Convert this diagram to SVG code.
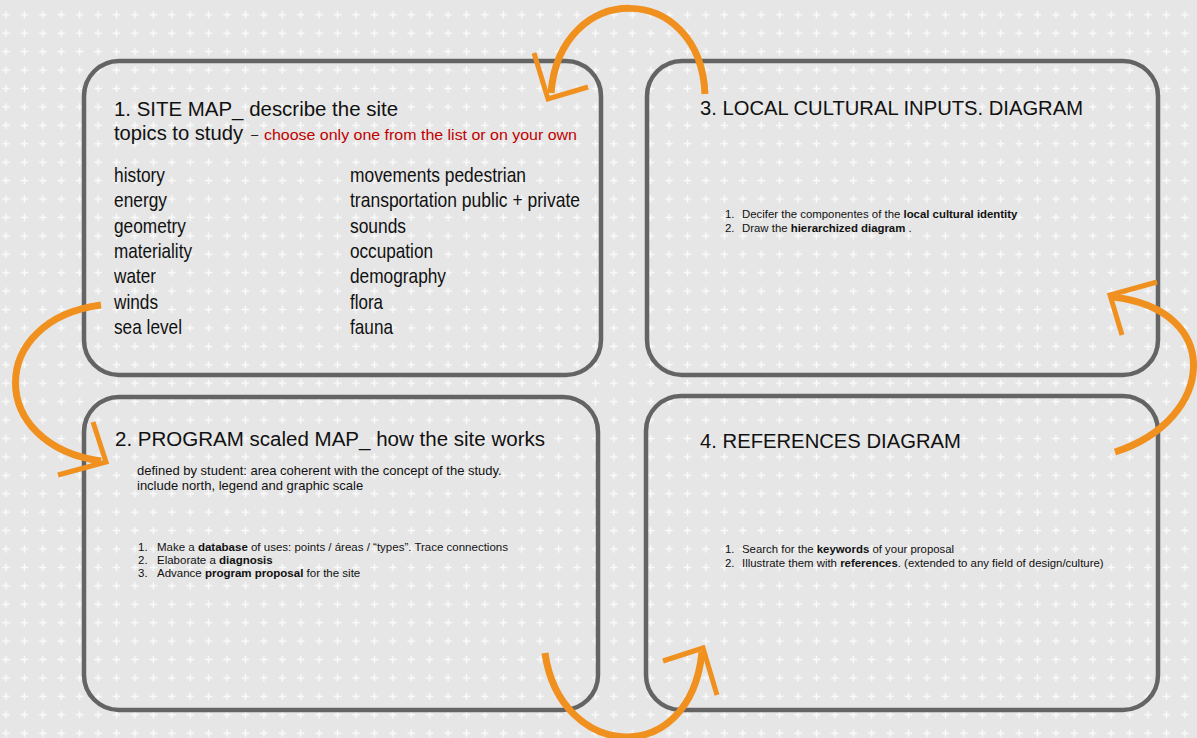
<svg xmlns="http://www.w3.org/2000/svg" width="1197" height="738" viewBox="0 0 1197 738">
<style>
.box{fill:none;stroke:#646464;stroke-width:4.5}
.t{font-family:"Liberation Sans",Arial,sans-serif;fill:#111}
.h{font-size:19.5px}
.li{font-size:21px}
.sm{font-size:11.4px}
.sub{font-size:13px}
.red{fill:#c00000;font-size:15px}
.b{font-weight:bold}
.arc{fill:none;stroke:#F0901E;stroke-width:7}
.head{fill:none;stroke:#F0901E;stroke-width:5;stroke-linejoin:miter}
</style>
<defs>
<pattern id="grid" x="-3.2" y="5.6" width="18.42" height="18.42" patternUnits="userSpaceOnUse">
<path d="M9.2,5.5 V12.9 M5.5,9.2 H12.9" stroke="#fbfbfb" stroke-width="1.4"/>
</pattern>
</defs>
<rect width="1197" height="738" fill="#e6e6e6"/>
<rect width="1197" height="738" fill="url(#grid)"/>

<g id="node1">
<rect class="box" x="84" y="61" width="517" height="314" rx="35"/>
<text class="t h" x="114" y="116" textLength="284" lengthAdjust="spacingAndGlyphs">1. SITE MAP_ describe the site</text>
<text class="t h" x="114" y="140" textLength="129" lengthAdjust="spacingAndGlyphs">topics to study</text>
<text class="t sub" x="251" y="139">–</text>
<text class="t red" x="264" y="140" textLength="313" lengthAdjust="spacingAndGlyphs">choose only one from the list or on your own</text>
<g class="t li">
<text x="114" y="182" textLength="51" lengthAdjust="spacingAndGlyphs">history</text>
<text x="114" y="207" textLength="53" lengthAdjust="spacingAndGlyphs">energy</text>
<text x="114" y="233" textLength="72" lengthAdjust="spacingAndGlyphs">geometry</text>
<text x="114" y="258" textLength="78" lengthAdjust="spacingAndGlyphs">materiality</text>
<text x="114" y="283" textLength="42" lengthAdjust="spacingAndGlyphs">water</text>
<text x="114" y="309" textLength="44" lengthAdjust="spacingAndGlyphs">winds</text>
<text x="114" y="334" textLength="68" lengthAdjust="spacingAndGlyphs">sea level</text>
<text x="350" y="182" textLength="176" lengthAdjust="spacingAndGlyphs">movements pedestrian</text>
<text x="350" y="207" textLength="230" lengthAdjust="spacingAndGlyphs">transportation public + private</text>
<text x="350" y="233" textLength="56" lengthAdjust="spacingAndGlyphs">sounds</text>
<text x="350" y="258" textLength="83" lengthAdjust="spacingAndGlyphs">occupation</text>
<text x="350" y="283" textLength="96" lengthAdjust="spacingAndGlyphs">demography</text>
<text x="350" y="309" textLength="33" lengthAdjust="spacingAndGlyphs">flora</text>
<text x="350" y="334" textLength="43" lengthAdjust="spacingAndGlyphs">fauna</text>
</g>
</g>

<g id="node3">
<rect class="box" x="647" y="61" width="511" height="314" rx="35"/>
<text class="t h" x="700" y="115" textLength="383" lengthAdjust="spacingAndGlyphs">3. LOCAL CULTURAL INPUTS. DIAGRAM</text>
<g class="t sm">
<text x="725" y="218">1.</text>
<text x="742" y="218">Decifer the componentes of the <tspan class="b">local cultural identity</tspan></text>
<text x="725" y="232">2.</text>
<text x="742" y="232">Draw the <tspan class="b">hierarchized diagram</tspan> .</text>
</g>
</g>

<g id="node2">
<rect class="box" x="84" y="397" width="514" height="313" rx="35"/>
<text class="t h" x="115" y="446" textLength="430" lengthAdjust="spacingAndGlyphs">2. PROGRAM scaled MAP_ how the site works</text>
<text class="t sub" x="137" y="475">defined by student: area coherent with the concept of the study.</text>
<text class="t sub" x="137" y="490">include north, legend and graphic scale</text>
<g class="t sm" style="font-size:11.5px">
<text x="138" y="551">1.</text>
<text x="157" y="551">Make a <tspan class="b">database</tspan> of uses: points / áreas / “types”. Trace connections</text>
<text x="138" y="564">2.</text>
<text x="157" y="564">Elaborate a <tspan class="b">diagnosis</tspan></text>
<text x="138" y="577">3.</text>
<text x="157" y="577">Advance <tspan class="b">program proposal</tspan> for the site</text>
</g>
</g>

<g id="node4">
<rect class="box" x="646" y="396" width="512" height="314" rx="35"/>
<text class="t h" x="700" y="448" textLength="261" lengthAdjust="spacingAndGlyphs">4. REFERENCES DIAGRAM</text>
<g class="t sm">
<text x="725" y="553">1.</text>
<text x="742" y="553">Search for the <tspan class="b">keywords</tspan> of your proposal</text>
<text x="725" y="567">2.</text>
<text x="742" y="567">Illustrate them with <tspan class="b">references</tspan>.  (extended to any field of design/culture)</text>
</g>
</g>

<g id="connectors">
<path class="arc" d="M705,94 C700,-20 560,-20 551,93"/>
<polyline class="head" points="534,53 548,99 588,87"/>
<path class="arc" d="M101,305 C-13,320 -13,445 101,461"/>
<polyline class="head" points="93,422 106,462 58,475"/>
<path class="arc" d="M1115,452 C1215,420 1225,310 1113,297"/>
<polyline class="head" points="1157,282 1110,295 1122,335"/>
<path class="arc" d="M545,653 C560,760 690,770 702,652"/>
<polyline class="head" points="663,661 703,648 717,695"/>
</g>
</svg>
